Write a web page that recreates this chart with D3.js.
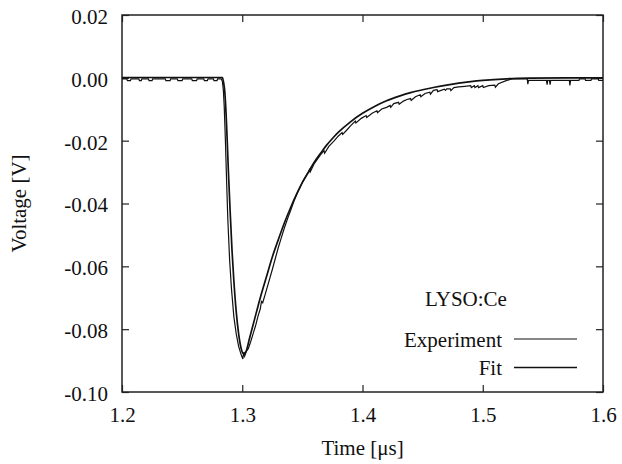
<!DOCTYPE html>
<html>
<head>
<meta charset="utf-8">
<script src="https://cdn.jsdelivr.net/npm/d3@7"></script>
<style>
  body { margin: 0; background: #fff; }
</style>
</head>
<body>
<svg width="622" height="464"></svg>
<script>
// experiment trace (digitised scope signal)
const expTime = [
  1.2000, 1.2040, 1.2045, 1.2070, 1.2075, 1.2140, 1.2145, 1.2160, 1.2165, 1.2220,
  1.2225, 1.2250, 1.2255, 1.2360, 1.2365, 1.2400, 1.2405, 1.2460, 1.2465, 1.2500,
  1.2505, 1.2580, 1.2585, 1.2620, 1.2625, 1.2680, 1.2685, 1.2710, 1.2715, 1.2760,
  1.2765, 1.2790, 1.2795, 1.2825,
  1.2835, 1.2843, 1.2850, 1.2860, 1.2870, 1.2880, 1.2895, 1.2910, 1.2930, 1.2950,
  1.2970, 1.2990, 1.3005, 1.3012, 1.3020, 1.3035, 1.3050, 1.3070, 1.3090, 1.3110,
  1.3130, 1.3150, 1.3160, 1.3170, 1.3190, 1.3220, 1.3250, 1.3280, 1.3300, 1.3320,
  1.3350, 1.3380, 1.3400, 1.3430, 1.3460, 1.3480, 1.3500, 1.3550, 1.3560, 1.3565,
  1.3600, 1.3650, 1.3680, 1.3685, 1.3720, 1.3760, 1.3800, 1.3830, 1.3835, 1.3870,
  1.3900, 1.3940, 1.3945, 1.3990, 1.4030, 1.4035, 1.4080, 1.4120, 1.4125, 1.4160,
  1.4200, 1.4230, 1.4235, 1.4260, 1.4300, 1.4305, 1.4340, 1.4370, 1.4400, 1.4405,
  1.4440, 1.4480, 1.4485, 1.4520, 1.4560, 1.4565, 1.4590, 1.4620, 1.4625, 1.4680,
  1.4690, 1.4700, 1.4730, 1.4735, 1.4760, 1.4800, 1.4850, 1.4900, 1.4905, 1.4930,
  1.4935, 1.4960, 1.4965, 1.5000, 1.5005, 1.5050, 1.5100, 1.5105, 1.5130, 1.5200,
  1.5250, 1.5370, 1.5375, 1.5380, 1.5530, 1.5535, 1.5540, 1.5555, 1.5560, 1.5565,
  1.5720, 1.5725, 1.5730, 1.5800, 1.5805, 1.5850, 1.5855, 1.5900, 1.5905, 1.5960,
  1.5965, 1.6000
];
const expVolt = [
  -0.0003, -0.0003, -0.0009, -0.0009, -0.0003, -0.0003, -0.0009, -0.0009, -0.0003, -0.0003,
  -0.0009, -0.0009, -0.0003, -0.0003, -0.0009, -0.0009, -0.0003, -0.0003, -0.0009, -0.0009,
  -0.0003, -0.0003, -0.0009, -0.0009, -0.0003, -0.0003, -0.0009, -0.0009, -0.0003, -0.0003,
  -0.0009, -0.0009, -0.0003, -0.0003,
  -0.0012, -0.0040, -0.0090, -0.0200, -0.0330, -0.0450, -0.0580, -0.0670, -0.0760, -0.0815,
  -0.0855, -0.0880, -0.0895, -0.0874, -0.0886, -0.0870, -0.0862, -0.0840, -0.0815, -0.0790,
  -0.0760, -0.0735, -0.0712, -0.0716, -0.0690, -0.0650, -0.0610, -0.0568, -0.0540, -0.0515,
  -0.0478, -0.0445, -0.0425, -0.0392, -0.0365, -0.0350, -0.0333, -0.0300, -0.0292, -0.0300,
  -0.0272, -0.0245, -0.0232, -0.0240, -0.0218, -0.0202, -0.0185, -0.0174, -0.0180, -0.0166,
  -0.0153, -0.0138, -0.0144, -0.0129, -0.0120, -0.0126, -0.0113, -0.0105, -0.0111, -0.0099,
  -0.0094, -0.0088, -0.0094, -0.0082, -0.0078, -0.0084, -0.0074, -0.0069, -0.0066, -0.0072,
  -0.0060, -0.0054, -0.0060, -0.0050, -0.0046, -0.0052, -0.0040, -0.0038, -0.0044, -0.0036,
  -0.0040, -0.0035, -0.0035, -0.0041, -0.0031, -0.0029, -0.0027, -0.0025, -0.0031, -0.0025,
  -0.0031, -0.0025, -0.0031, -0.0025, -0.0031, -0.0025, -0.0023, -0.0030, -0.0019, -0.0008,
  -0.0003, -0.0003, -0.0020, -0.0008, -0.0008, -0.0022, -0.0008, -0.0008, -0.0022, -0.0008,
  -0.0008, -0.0024, -0.0008, -0.0008, -0.0003, -0.0003, -0.0008, -0.0008, -0.0003, -0.0003,
  -0.0008, -0.0008
];

// fitted curve
const fitTime = [
  1.2000, 1.2835, 1.2845, 1.2855, 1.2865, 1.2875, 1.2885, 1.2900, 1.2915, 1.2930,
  1.2950, 1.2970, 1.2990, 1.3010, 1.3030, 1.3060, 1.3100, 1.3150, 1.3200, 1.3250,
  1.3300, 1.3350, 1.3400, 1.3450, 1.3500, 1.3550, 1.3600, 1.3650, 1.3700, 1.3750,
  1.3800, 1.3900, 1.4000, 1.4100, 1.4200, 1.4300, 1.4400, 1.4500, 1.4600, 1.4700,
  1.4800, 1.4900, 1.5000, 1.5200, 1.5400, 1.5700, 1.6000
];
const fitVolt = [
  0.0001, 0.0001, -0.0015, -0.0045, -0.0110, -0.0200, -0.0300, -0.0430, -0.0550, -0.0645,
  -0.0745, -0.0815, -0.0860, -0.0878, -0.0872, -0.0830, -0.0772, -0.0700, -0.0635, -0.0570,
  -0.0515, -0.0462, -0.0415, -0.0372, -0.0333, -0.0300, -0.0268, -0.0241, -0.0215, -0.0193,
  -0.0173, -0.0140, -0.0113, -0.0091, -0.0073, -0.0059, -0.0047, -0.0038, -0.0030, -0.0023,
  -0.0017, -0.0012, -0.0008, -0.0003, -0.0001, 0.0000, 0.0000
];

const xTicks = [1.2, 1.3, 1.4, 1.5, 1.6];
const yTicks = [0.02, 0.00, -0.02, -0.04, -0.06, -0.08, -0.10];
const materialLabel = "LYSO:Ce";
const seriesNames = ["Experiment", "Fit"];

const margin = { top: 15, right: 19, bottom: 72, left: 122 },
      width = 622 - margin.left - margin.right,
      height = 464 - margin.top - margin.bottom;

const serif = '"Liberation Serif", "Times New Roman", Times, serif';
const fontSize = 21;
const tickLen = 7;

const svg = d3.select("svg")
    .append("g")
    .attr("transform", `translate(${margin.left},${margin.top})`);

const x = d3.scaleLinear().domain([1.2, 1.6]).range([0, width]);
const y = d3.scaleLinear().domain([-0.10, 0.02]).range([height, 0]);

// plain hyphen instead of the unicode minus that d3.format gives
const yFormat = d => d.toFixed(2);

// axes, ticks pointing inward on all four sides
const xAxis = svg.append("g")
    .attr("transform", `translate(0,${height})`)
    .call(d3.axisBottom(x).tickValues(xTicks).tickFormat(d => d.toFixed(1))
        .tickSizeInner(-tickLen).tickSizeOuter(0).tickPadding(15));

const yAxis = svg.append("g")
    .call(d3.axisLeft(y).tickValues(yTicks).tickFormat(yFormat)
        .tickSizeInner(-tickLen).tickSizeOuter(0).tickPadding(14));
yAxis.selectAll("text").attr("dy", "0.40em");

svg.append("g")
    .call(d3.axisTop(x).tickValues(xTicks).tickFormat("")
        .tickSizeInner(-tickLen).tickSizeOuter(0));
svg.append("g")
    .attr("transform", `translate(${width},0)`)
    .call(d3.axisRight(y).tickValues(yTicks).tickFormat("")
        .tickSizeInner(-tickLen).tickSizeOuter(0));

svg.selectAll(".domain").remove();
svg.selectAll(".tick line").attr("stroke", "#222").attr("stroke-width", 1.2);

// frame
svg.append("rect")
    .attr("width", width)
    .attr("height", height)
    .attr("fill", "none")
    .attr("stroke", "#222")
    .attr("stroke-width", 1.5);

const line = d3.line()
    .x(d => x(d[0]))
    .y(d => y(d[1]));

const expData = expTime.map((t, i) => [t, expVolt[i]]);
const fitData = fitTime.map((t, i) => [t, fitVolt[i]]);

svg.append("path")
    .datum(expData)
    .attr("fill", "none")
    .attr("stroke", "#111")
    .attr("stroke-width", 1.2)
    .attr("d", line);

svg.append("path")
    .datum(fitData)
    .attr("fill", "none")
    .attr("stroke", "#111")
    .attr("stroke-width", 1.7)
    .attr("d", line.curve(d3.curveMonotoneX));

// axis titles
svg.append("text")
    .attr("x", width / 2)
    .attr("y", height + 63)
    .attr("text-anchor", "middle")
    .text("Time [μs]");

svg.append("text")
    .attr("transform", `translate(${-96},${height / 2}) rotate(-90)`)
    .attr("text-anchor", "middle")
    .text("Voltage [V]");

// legend
const legend = svg.append("g").attr("transform", `translate(${width - 101},0)`);
legend.append("text")
    .attr("x", -36)
    .attr("y", 291)
    .attr("text-anchor", "middle")
    .text(materialLabel);

seriesNames.forEach((name, i) => {
    const yy = 324 + i * 28.5;
    legend.append("text")
        .attr("x", 0)
        .attr("y", yy + 7.5)
        .attr("text-anchor", "end")
        .text(name);
    legend.append("line")
        .attr("x1", 12).attr("x2", 75)
        .attr("y1", yy).attr("y2", yy)
        .attr("stroke", "#111")
        .attr("stroke-width", i === 0 ? 1.2 : 1.7);
});

d3.selectAll("text")
    .style("font-family", serif)
    .style("font-size", fontSize + "px")
    .attr("fill", "#111");
</script>
</body>
</html>
